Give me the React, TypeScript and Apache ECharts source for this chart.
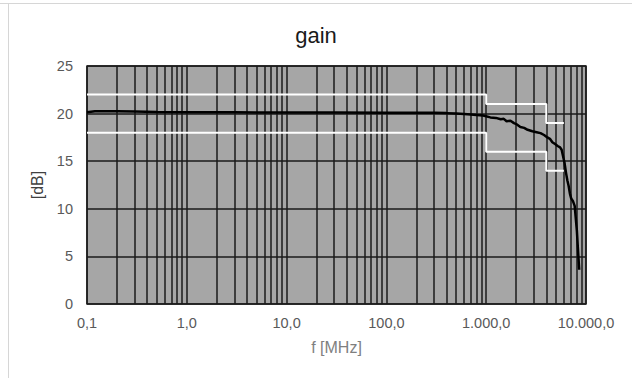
import React, { useEffect, useRef } from "react";
import * as echarts from "echarts";

const titleText = "gain";
const xAxisName = "f [MHz]";
const yAxisName = "[dB]";

const xTickLabels = ["0,1", "1,0", "10,0", "100,0", "1.000,0", "10.000,0"];
const xMin = 0.1;
const xMax = 10000;
const yMin = 0;
const yMax = 25;
const yInterval = 5;

// minor log grid lines (mantissas within each decade)
const decades = [0.1, 1, 10, 100, 1000];
const mantissas = [2, 3, 4, 5, 6, 7, 8, 9];

// measured gain curve
const freqMHz = [
  0.1, 0.12, 0.2, 0.3, 0.5, 1, 3, 10, 30, 100, 200, 300, 400, 500, 600, 700, 800, 935,
  1100, 1250, 1400, 1500, 1600, 1750, 1900, 2000, 2200, 2400, 2600, 2900, 3200, 3500,
  3800, 4100, 4350, 4600, 4900, 5200, 5500, 5700, 5900, 6100, 6300, 6500, 6700, 6900,
  7100, 7400, 7700, 7900, 8100, 8300, 8550,
];
const gainDb = [
  20.15, 20.25, 20.25, 20.22, 20.18, 20.15, 20.13, 20.12, 20.12, 20.1, 20.1, 20.1, 20.05,
  20.0, 19.95, 19.9, 19.85, 19.8, 19.6, 19.55, 19.4, 19.45, 19.2, 19.25, 19.0, 18.9, 18.6,
  18.5, 18.3, 18.15, 18.05, 17.95, 17.75, 17.5, 17.35, 17.0, 16.8, 16.6, 16.45, 16.2, 15.5,
  14.8, 13.8, 13.0, 12.4, 11.6, 11.1, 10.8, 10.3, 9.0, 7.7, 5.8, 3.6,
];

// tolerance mask
const maskBreaksMHz = [0.1, 1000, 4000, 6000];
const upperLimitDb = [22, 21, 19];
const lowerLimitDb = [18, 16, 14];

function stepLine(breaks: number[], limits: number[]) {
  const pts: number[][] = [];
  for (let i = 0; i < limits.length; i++) {
    pts.push([breaks[i], limits[i]]);
    pts.push([breaks[i + 1], limits[i]]);
  }
  return pts;
}

export default function App() {
  const ref = useRef<HTMLDivElement>(null);
  useEffect(() => {
    if (!ref.current) return;
    const chart = echarts.init(ref.current, undefined, { renderer: "svg" });
    const minorLines: any[] = [];
    decades.forEach((d) => mantissas.forEach((m) => minorLines.push({ xAxis: d * m })));
    const font = "'Liberation Sans', Arial, sans-serif";
    const gridColor = "#1a1a1a";
    chart.setOption({
      animation: false,
      backgroundColor: "#ffffff",
      title: {
        text: titleText,
        left: "center",
        top: 19,
        textStyle: { fontSize: 22, fontWeight: "normal", color: "#1a1a1a", fontFamily: font },
      },
      graphic: [
        { type: "line", shape: { x1: 0, y1: 3.5, x2: 632, y2: 3.5 }, style: { stroke: "#d6d6d6", lineWidth: 1 } },
        { type: "line", shape: { x1: 8.5, y1: 3, x2: 8.5, y2: 378 }, style: { stroke: "#d6d6d6", lineWidth: 1 } },
      ],
      grid: {
        left: 87,
        right: 46,
        top: 66,
        bottom: 74,
        show: true,
        backgroundColor: "#a6a6a6",
        borderColor: "#262626",
        borderWidth: 1.5,
      },
      xAxis: {
        type: "log",
        logBase: 10,
        min: xMin,
        max: xMax,
        name: xAxisName,
        nameLocation: "middle",
        nameGap: 35,
        nameTextStyle: { fontSize: 16, color: "#7f7f7f", fontFamily: font },
        axisLine: { show: false },
        axisTick: { show: false },
        axisLabel: {
          fontSize: 14.5,
          color: "#595959",
          fontFamily: font,
          margin: 11,
          formatter: (v: number) => {
            const idx = Math.round(Math.log10(v)) + 1;
            return xTickLabels[idx] ?? "";
          },
        },
        splitLine: { show: true, lineStyle: { color: gridColor, width: 1.5 } },
      },
      yAxis: {
        type: "value",
        min: yMin,
        max: yMax,
        interval: yInterval,
        name: yAxisName,
        nameLocation: "middle",
        nameRotate: 90,
        nameGap: 35,
        nameTextStyle: { fontSize: 16, color: "#404040", fontFamily: font },
        axisLine: { show: false },
        axisTick: { show: false },
        axisLabel: { fontSize: 14.5, color: "#595959", fontFamily: font, margin: 14 },
        splitLine: { show: true, lineStyle: { color: gridColor, width: 1.5 } },
      },
      series: [
        {
          type: "line",
          data: [],
          z: 1,
          silent: true,
          markLine: {
            z: 1,
            silent: true,
            symbol: "none",
            label: { show: false },
            lineStyle: { color: gridColor, width: 1.5, type: "solid" },
            data: minorLines,
          },
        },
        {
          type: "line",
          data: stepLine(maskBreaksMHz, upperLimitDb),
          symbol: "none",
          z: 3,
          lineStyle: { color: "#ffffff", width: 2 },
        },
        {
          type: "line",
          data: stepLine(maskBreaksMHz, lowerLimitDb),
          symbol: "none",
          z: 3,
          lineStyle: { color: "#ffffff", width: 2 },
        },
        {
          type: "line",
          data: freqMHz.map((f, i) => [f, gainDb[i]]),
          symbol: "none",
          z: 4,
          lineStyle: { color: "#000000", width: 2.5 },
        },
      ],
    });
    return () => chart.dispose();
  }, []);
  return (
    <div
      ref={ref}
      style={{ position: "fixed", left: 0, top: 0, width: 632, height: 378 }}
    />
  );
}
